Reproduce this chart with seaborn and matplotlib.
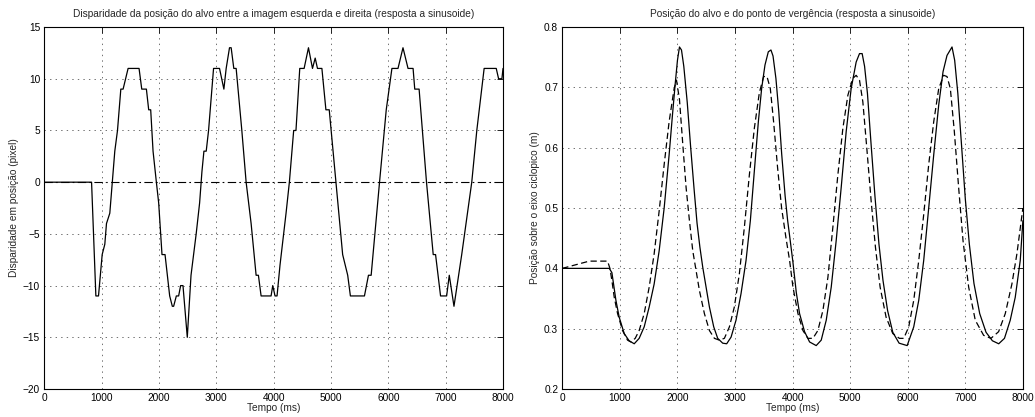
import matplotlib
matplotlib.use("Agg")
import matplotlib.pyplot as plt
import seaborn as sns
import pandas as pd

# Disparity between left and right image positions of the target (pixels)
disp_time = [0, 826, 901, 947, 1011, 1057, 1086, 1144, 1231, 1278, 1336, 1376,
             1463, 1654, 1701, 1782, 1822, 1857, 1898, 1956, 1996, 2054, 2107,
             2188, 2234, 2257, 2304, 2344, 2379, 2420, 2495, 2560, 2650, 2710,
             2750, 2785, 2825, 2866, 2924, 2953, 3057, 3133, 3173, 3231, 3260,
             3306, 3347, 3446, 3521, 3608, 3695, 3735, 3782, 3956, 3985, 4025,
             4060, 4112, 4217, 4275, 4350, 4390, 4456, 4532, 4608, 4678, 4725,
             4765, 4842, 4912, 4970, 5087, 5204, 5292, 5339, 5584, 5654, 5701,
             5847, 5964, 6063, 6169, 6256, 6344, 6432, 6461, 6537, 6666, 6783,
             6824, 6911, 7017, 7063, 7145, 7280, 7455, 7543, 7671, 7882, 7923,
             7981, 8000]
disp_value = [0, 0, -11, -11, -7, -6, -4, -3, 3, 5, 9, 9,
              11, 11, 9, 9, 7, 7, 3, 0, -2, -7, -7,
              -11, -12, -12, -11, -11, -10, -10, -15, -9, -5, -2,
              1, 3, 3, 5, 9, 11, 11, 9, 11, 13, 13,
              11, 11, 5, 0, -4, -9, -9, -11, -11, -10, -11,
              -11, -8, -3, 0, 5, 5, 11, 11, 13, 11, 12,
              11, 11, 7, 7, 0, -7, -9, -11, -11, -9, -9,
              0, 7, 11, 11, 13, 11, 11, 9, 9, 0, -7,
              -7, -11, -11, -9, -12, -7, 0, 5, 11, 11, 10,
              10, 11]

# Target position on the cyclopean axis (m)
target_time = [0, 815, 861, 890, 931, 988, 1075, 1160, 1249, 1335, 1422, 1509,
               1595, 1682, 1769, 1855, 1913, 1960, 2000, 2035, 2070, 2110, 2170,
               2230, 2290, 2340, 2390, 2439, 2497, 2555, 2630, 2699, 2786, 2855,
               2931, 3017, 3104, 3191, 3266, 3335, 3405, 3462, 3520, 3578, 3624,
               3660, 3710, 3760, 3810, 3870, 3913, 3960, 4006, 4064, 4121, 4208,
               4295, 4410, 4497, 4584, 4671, 4757, 4844, 4931, 5017, 5104, 5162,
               5208, 5250, 5300, 5360, 5430, 5500, 5570, 5650, 5740, 5850, 5990,
               6104, 6191, 6277, 6364, 6451, 6538, 6613, 6682, 6769, 6815, 6870,
               6930, 7000, 7070, 7150, 7250, 7360, 7470, 7580, 7680, 7780, 7867,
               7954, 8000]
target_value = [0.400, 0.400, 0.393, 0.374, 0.347, 0.319, 0.292, 0.280, 0.275,
                0.284, 0.303, 0.336, 0.374, 0.429, 0.500, 0.588, 0.654, 0.705,
                0.745, 0.767, 0.762, 0.735, 0.675, 0.600, 0.530, 0.475, 0.435,
                0.402, 0.369, 0.336, 0.303, 0.284, 0.276, 0.275, 0.286, 0.314,
                0.358, 0.413, 0.479, 0.561, 0.643, 0.698, 0.737, 0.759, 0.762,
                0.752, 0.715, 0.660, 0.590, 0.520, 0.480, 0.445, 0.410, 0.360,
                0.325, 0.295, 0.278, 0.272, 0.281, 0.314, 0.369, 0.446, 0.534,
                0.627, 0.698, 0.742, 0.756, 0.756, 0.735, 0.690, 0.610, 0.520,
                0.440, 0.380, 0.330, 0.294, 0.276, 0.272, 0.303, 0.347, 0.413,
                0.500, 0.588, 0.671, 0.726, 0.753, 0.767, 0.745, 0.690, 0.610,
                0.515, 0.440, 0.375, 0.325, 0.294, 0.280, 0.275, 0.284, 0.314,
                0.352, 0.413, 0.479]

# Vergence point position on the cyclopean axis (m)
vergence_time = [0, 468, 786, 827, 861, 902, 960, 1046, 1133, 1191, 1266, 1335,
                 1422, 1509, 1595, 1682, 1769, 1855, 1942, 1983, 2035, 2093,
                 2150, 2208, 2266, 2324, 2382, 2468, 2555, 2642, 2728, 2815,
                 2902, 2988, 3075, 3162, 3249, 3335, 3422, 3497, 3555, 3613,
                 3670, 3740, 3809, 3884, 3948, 4006, 4093, 4179, 4266, 4353,
                 4439, 4526, 4613, 4699, 4786, 4873, 4960, 5046, 5104, 5162,
                 5220, 5289, 5364, 5439, 5520, 5624, 5740, 5855, 5931, 6017,
                 6104, 6191, 6277, 6364, 6451, 6538, 6624, 6682, 6740, 6809,
                 6884, 6960, 7058, 7173, 7318, 7445, 7578, 7694, 7809, 7896,
                 8000]
vergence_value = [0.400, 0.412, 0.412, 0.400, 0.380, 0.352, 0.325, 0.297, 0.281,
                  0.278, 0.284, 0.297, 0.325, 0.369, 0.424, 0.495, 0.572, 0.643,
                  0.698, 0.712, 0.680, 0.605, 0.534, 0.479, 0.429, 0.396, 0.363,
                  0.325, 0.297, 0.284, 0.281, 0.284, 0.303, 0.336, 0.391, 0.468,
                  0.555, 0.632, 0.691, 0.718, 0.718, 0.698, 0.643, 0.566, 0.500,
                  0.451, 0.413, 0.369, 0.325, 0.297, 0.284, 0.284, 0.297, 0.330,
                  0.385, 0.468, 0.555, 0.632, 0.687, 0.715, 0.720, 0.712, 0.676,
                  0.599, 0.512, 0.435, 0.369, 0.319, 0.292, 0.284, 0.284, 0.303,
                  0.347, 0.413, 0.489, 0.572, 0.643, 0.698, 0.720, 0.718, 0.698,
                  0.627, 0.534, 0.446, 0.369, 0.314, 0.289, 0.284, 0.295, 0.325,
                  0.374, 0.424, 0.500]

x_ticks = [0, 1000, 2000, 3000, 4000, 5000, 6000, 7000, 8000]
disp_ticks = [-20, -15, -10, -5, 0, 5, 10, 15]
pos_ticks = [0.2, 0.3, 0.4, 0.5, 0.6, 0.7, 0.8]

sns.set_theme(style="white")
plt.rcParams["font.family"] = ["Liberation Sans", "DejaVu Sans"]
plt.rcParams["lines.scale_dashes"] = False
plt.rcParams["axes.unicode_minus"] = True

FS = 7.3
fig = plt.figure(figsize=(10.35, 4.17), dpi=100)
ax1 = fig.add_axes([0.0427, 0.0671, 0.4433, 0.868])
ax2 = fig.add_axes([0.5433, 0.0671, 0.4450, 0.868])


def style_axes(ax, xt, yt, xlim, ylim):
    ax.set_xlim(*xlim)
    ax.set_ylim(*ylim)
    ax.set_xticks(xt)
    ax.set_yticks(yt)
    ax.set_yticklabels([f"{v:g}".replace("-", "\u2212") for v in yt])
    ax.grid(True, color="0.35", linestyle=(0, (1, 3)), linewidth=0.6)
    ax.tick_params(direction="in", top=True, right=True, length=4, width=0.6,
                   labelsize=FS, colors="black", pad=3)
    for s in ax.spines.values():
        s.set_color("black")
        s.set_linewidth(0.8)
    ax.set_facecolor("white")


# Left panel: disparity
disp_df = pd.DataFrame({"t": disp_time, "d": disp_value})
ax1.axhline(0, color="black", linewidth=0.8, linestyle=(0, (6, 2.5, 1, 2.5)))
sns.lineplot(data=disp_df, x="t", y="d", ax=ax1, color="black", linewidth=0.9,
             estimator=None, sort=False)
style_axes(ax1, x_ticks, disp_ticks, (0, 8000), (-20, 15))
ax1.set_title("Disparidade da posição do alvo entre a imagem esquerda e direita (resposta a sinusoide)",
              fontsize=FS, pad=7)
ax1.set_xlabel("Tempo (ms)", fontsize=FS, labelpad=0)
ax1.set_ylabel("Disparidade em posição (pixel)", fontsize=FS, labelpad=3)

# Right panel: target and vergence positions
tgt_df = pd.DataFrame({"t": target_time, "p": target_value})
ver_df = pd.DataFrame({"t": vergence_time, "p": vergence_value})
sns.lineplot(data=tgt_df, x="t", y="p", ax=ax2, color="black", linewidth=0.9,
             estimator=None, sort=False)
sns.lineplot(data=ver_df, x="t", y="p", ax=ax2, color="black", linewidth=0.9,
             estimator=None, sort=False, linestyle=(0, (4.5, 2.5)))
style_axes(ax2, x_ticks, pos_ticks, (0, 8000), (0.2, 0.8))
ax2.set_title("Posição do alvo e do ponto de vergência (resposta a sinusoide)",
              fontsize=FS, pad=7)
ax2.set_xlabel("Tempo (ms)", fontsize=FS, labelpad=0)
ax2.set_ylabel("Posição sobre o eixo ciclopico (m)", fontsize=FS, labelpad=3)

fig.savefig("out.png", dpi=100, facecolor="white")
